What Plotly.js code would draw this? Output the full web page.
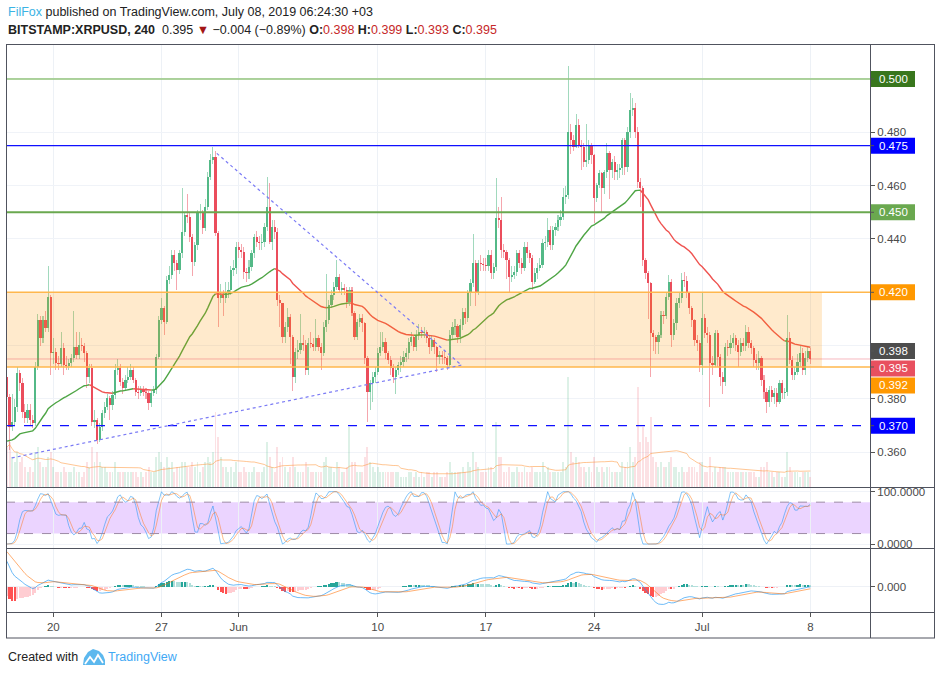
<!DOCTYPE html>
<html><head><meta charset="utf-8">
<script src="https://cdn.plot.ly/plotly-3.0.1.min.js"></script>
<style>html,body{margin:0;padding:0;background:#fff;}#chart{width:939px;height:675px;}</style>
</head><body><div id="chart"></div>
<script>
// ---------------- DATA ----------------
const firstCandle = Date.UTC(2019, 4, 17, 0, 0); // 4h candles, BITSTAMP:XRPUSD
const candleHours = 4;
const firstOpen = 0.3884;
const close = [
.3809,.3696,.3715,.3771,.3896,.3859,.3753,.3728,.3759,.3721,
.3709,.3921,.4096,.4028,.4096,.4065,.4184,.3971,.3978,.3934,
.3930,.3990,.3928,.3925,.3934,.3953,.3996,.3965,.4003,.3999,
.3971,.3884,.3915,.3715,.3721,.3646,.3696,.3746,.3771,.3803,
.3778,.3815,.3909,.3915,.3865,.3840,.3871,.3884,.3909,.3871,
.3828,.3821,.3834,.3828,.3821,.3784,.3821,.3834,.3959,.4096,
.4140,.4090,.4246,.4265,.4340,.4309,.4284,.4346,.4428,.4490,
.4484,.4409,.4315,.4378,.4496,.4503,.4440,.4521,.4634,.4696,
.4709,.4421,.4178,.4190,.4178,.4196,.4209,.4284,.4290,.4371,
.4359,.4353,.4278,.4271,.4296,.4346,.4409,.4390,.4384,.4390,
.4446,.4521,.4390,.4446,.4428,.4171,.4159,.4034,.4071,.4109,
.4034,.3884,.3978,.3984,.4009,.4003,.3909,.4009,.4006,.3996,
.4028,.3996,.3971,.4071,.4096,.4153,.4190,.4221,.4259,.4209,
.4215,.4209,.4165,.4209,.4121,.4034,.4090,.4103,.4084,.3953,
.3828,.3859,.3884,.3903,.3971,.3996,.4015,.3971,.3946,.3915,
.3884,.3909,.3928,.3940,.3959,.3971,.4015,.4034,.3996,.4040,
.4053,.4046,.4053,.4028,.3996,.4021,.3996,.3959,.3965,.3959,
.3953,.3928,.4040,.4071,.4075,.4034,.4078,.4128,.4103,.4196,
.4234,.4309,.4203,.4309,.4306,.4303,.4300,.4340,.4271,.4296,
.4478,.4471,.4359,.4353,.4321,.4259,.4265,.4278,.4346,.4309,
.4290,.4371,.4346,.4328,.4240,.4271,.4290,.4303,.4384,.4390,
.4434,.4378,.4434,.4446,.4471,.4484,.4559,.4565,.4803,.4771,
.4746,.4828,.4753,.4746,.4690,.4696,.4753,.4715,.4553,.4603,
.4646,.4590,.4653,.4721,.4659,.4690,.4653,.4659,.4665,.4771,
.4671,.4803,.4884,.4890,.4803,.4615,.4590,.4321,.4271,.4234,
.4046,.4034,.4015,.4040,.4115,.4112,.4184,.4240,.4040,.4084,
.4159,.4178,.4246,.4243,.4196,.4140,.4096,.4021,.4009,.3928,
.4103,.4046,.4040,.3934,.3928,.4046,.3959,.3884,.3865,.3996,
.3990,.4009,.4028,.4003,.3978,.4009,.3999,.4053,.4009,.3990,
.3946,.3934,.3953,.3871,.3828,.3790,.3834,.3809,.3821,.3790,
.3859,.3821,.3828,.4028,.3946,.3890,.3903,.3940,.3971,.3909,
.3953,.3980,.3950];
const high = [
.390,.382,.382,.380,.392,.391,.388,.378,.378,.378,
.374,.394,.412,.411,.411,.413,.430,.419,.403,.399,
.396,.405,.401,.396,.395,.397,.413,.405,.405,.403,
.401,.398,.393,.393,.376,.373,.371,.376,.379,.382,
.381,.383,.393,.395,.393,.388,.389,.392,.393,.392,
.388,.385,.385,.385,.384,.383,.383,.385,.397,.411,
.418,.415,.426,.430,.436,.436,.432,.436,.459,.450,
.457,.450,.442,.439,.451,.453,.451,.455,.465,.472,
.4746,.473,.443,.423,.421,.424,.424,.430,.432,.439,
.439,.438,.437,.429,.432,.436,.442,.443,.441,.442,
.446,.4634,.461,.447,.447,.444,.419,.416,.409,.414,
.412,.404,.399,.402,.412,.404,.402,.403,.405,.403,
.410,.404,.401,.409,.427,.417,.421,.424,.432,.427,
.424,.423,.422,.422,.422,.413,.410,.412,.412,.409,
.396,.387,.390,.392,.399,.405,.405,.403,.398,.396,
.393,.392,.394,.396,.398,.399,.403,.405,.404,.406,
.408,.407,.407,.406,.404,.404,.403,.400,.398,.398,
.398,.396,.406,.409,.410,.408,.410,.414,.414,.421,
.425,.442,.432,.432,.434,.433,.433,.436,.436,.431,
.4628,.452,.4559,.438,.436,.433,.430,.430,.436,.436,
.433,.439,.439,.436,.434,.429,.431,.433,.440,.441,
.448,.445,.445,.446,.449,.451,.459,.460,.505,.483,
.479,.487,.485,.477,.476,.483,.477,.476,.472,.461,
.466,.465,.466,.476,.473,.470,.471,.468,.468,.478,
.478,.482,.4946,.493,.491,.482,.463,.460,.433,.428,
.424,.406,.404,.405,.413,.413,.420,.4265,.425,.410,
.418,.420,.4271,.4278,.426,.420,.415,.410,.404,.402,
.4196,.412,.407,.405,.396,.406,.406,.397,.390,.401,
.402,.404,.4046,.404,.402,.403,.403,.4078,.407,.402,
.400,.397,.398,.396,.389,.384,.385,.385,.384,.384,
.387,.387,.384,.4115,.405,.396,.392,.397,.400,.399,
.398,.3996,.399];
const low = [
.361,.361,.368,.370,.375,.383,.373,.371,.371,.370,
.369,.370,.391,.400,.401,.405,.405,.389,.393,.391,
.391,.392,.389,.391,.391,.392,.394,.395,.395,.398,
.394,.384,.386,.370,.369,.363,.364,.368,.373,.376,
.372,.376,.380,.389,.385,.382,.383,.386,.387,.386,
.381,.380,.381,.381,.380,.376,.377,.381,.382,.395,
.408,.404,.408,.423,.425,.428,.421,.427,.433,.441,
.446,.439,.426,.430,.436,.447,.442,.443,.451,.462,
.468,.441,.407,.416,.411,.416,.418,.419,.426,.427,
.433,.433,.425,.424,.425,.428,.433,.437,.436,.436,
.437,.443,.438,.436,.440,.415,.407,.401,.401,.405,
.393,.383,.386,.395,.397,.398,.389,.389,.399,.398,
.398,.398,.391,.396,.405,.408,.414,.417,.421,.420,
.419,.419,.414,.415,.411,.402,.402,.407,.405,.393,
.3715,.376,.379,.386,.389,.396,.398,.395,.393,.389,
.386,.382,.389,.390,.392,.394,.395,.400,.398,.398,
.402,.403,.403,.401,.397,.398,.397,.390,.393,.393,
.393,.391,.392,.402,.404,.401,.401,.406,.408,.409,
.415,.422,.415,.419,.428,.428,.428,.428,.425,.425,
.428,.444,.433,.433,.425,.4196,.424,.425,.426,.429,
.427,.428,.433,.431,.421,.423,.425,.428,.429,.436,
.437,.436,.436,.441,.443,.445,.447,.453,.455,.472,
.473,.474,.474,.466,.467,.467,.468,.468,.446,.454,
.459,.450,.457,.463,.455,.463,.462,.462,.463,.464,
.464,.465,.478,.486,.478,.459,.452,.430,.425,.410,
.3884,.398,.397,.397,.403,.408,.410,.417,.3996,.402,
.406,.414,.416,.422,.418,.412,.407,.400,.398,.390,
.389,.403,.401,.377,.389,.392,.392,.385,.382,.385,
.396,.397,.399,.398,.392,.396,.398,.398,.399,.397,
.392,.391,.391,.385,.380,.3746,.377,.379,.378,.377,
.378,.380,.380,.381,.393,.387,.387,.389,.392,.389,
.389,.394,.393];
const volume = [
8,9,6,5,7,5,6,4,3,4, 3,7,8,5,4,4,6,7,4,3, 3,3,4,3,3,3,4,3,3,2, 3,5,4,8,5,7,5,4,4,3,
3,3,5,3,3,3,3,3,3,3, 3,2,3,2,3,4,3,3,6,7, 5,4,6,4,5,3,4,4,5,5, 4,4,5,4,5,3,4,5,6,5,
7,15,10,6,4,4,3,4,3,5, 3,3,4,3,3,3,4,3,3,3, 4,9,6,4,3,8,5,6,4,3, 4,6,4,3,3,3,5,4,3,3,
3,3,3,5,6,4,4,3,5,4, 3,3,4,12,5,5,3,3,3,6, 8,5,4,3,4,3,3,3,3,3, 3,3,3,2,2,2,3,3,2,3,
2,3,2,3,3,2,3,3,2,2, 2,3,5,3,3,3,3,4,3,5, 4,7,5,4,3,3,3,4,4,3, 13,6,6,3,3,4,3,3,4,3,
3,4,3,3,4,3,3,3,5,3, 4,3,3,3,3,3,5,4,22,7, 5,6,5,4,4,3,4,3,6,4, 3,4,3,4,4,3,3,3,3,5,
4,5,8,5,6,20,9,12,10,9, 14,6,5,4,5,4,4,5,6,4, 4,3,4,3,3,4,4,4,3,5, 5,3,3,6,3,4,3,4,4,4,
3,3,3,3,3,3,3,3,3,3, 3,2,2,4,4,5,3,3,2,3, 3,2,2,7,4,3,3,3,2,3, 3,3,2];

// indicator seeds (state before the first visible candle, estimated from the panes)
const emaLen = 50, emaSeed = 0.3635;
const volMaLen = 20;
const macdFast = 12, macdSlow = 26, macdSig = 9;
const fastSeed = 0.425, slowSeed = 0.397, sigSeed = 0.033;
const rsiLen = 14, stochLen = 14, kLen = 3, dLen = 3;
const rsiSeedGain = 0.0015, rsiSeedLoss = 0.0035;
const rsiPrior = [70, 68, 72, 66, 60, 45, 38, 40, 35, 30, 28, 32, 30];

// axis ticks
const tickDates = ['2019-05-20','2019-05-27','2019-06-01','2019-06-10','2019-06-17','2019-06-24','2019-07-01','2019-07-08'];
const tickLabels = ['20','27','Jun','10','17','24','Jul','8'];
const priceTicks = [0.36,0.38,0.40,0.42,0.44,0.46,0.48,0.50];
const priceTickLabels = ['0.360','0.380','','','0.440','0.460','0.480',''];

// drawn levels and trend lines
const levelValues = [0.500, 0.475, 0.450, 0.420, 0.392, 0.370];
const currentPrice = 0.395, prevClose = 0.398;
const zoneLow = 0.392, zoneHigh = 0.420, zoneEnd = '2019-07-08 18:00';
const trendDown = [['2019-05-30 14:00', 0.4721], ['2019-06-15 10:00', 0.3927]];
const trendUp = [['2019-05-17 07:30', 0.3579], ['2019-06-15 10:00', 0.3927]];

// ---------------- GEOMETRY / STYLE ----------------
const L = 6, R = 870, T = 44, B = 612;
const W = R - L, H = B - T;
const px2x = px => (px - L) / W;
const py2y = py => (B - py) / H;
const priceDom = [py2y(487), 1], stochDom = [py2y(548), py2y(487)], macdDom = [0, py2y(548)];
const priceRange = [0.3470, 0.51311];
const priceToPy = p => 487 - (p - priceRange[0]) / (priceRange[1] - priceRange[0]) * (487 - 44);
const xRange = ['2019-05-16 22:31', '2019-07-11 20:40'];
const UP = '#53b987', DN = '#eb4d5c';
const FONT = 'Liberation Sans, Arial, sans-serif';

// ---------------- BUILD ----------------
const STEP = candleHours * 3600 * 1000;
const fmt = ms => new Date(ms).toISOString().slice(0, 16).replace('T', ' ');
const times = close.map((_, i) => fmt(firstCandle + i * STEP));
const open = close.map((c, i) => i === 0 ? firstOpen : close[i - 1]);
const isUp = close.map((c, i) => c >= open[i]);

const bodyBase = close.map((c, i) => Math.min(c, open[i]));
const bodyH = close.map((c, i) => Math.max(Math.abs(c - open[i]), 0.0004));
const wickBase = low.slice();
const wickH = high.map((h, i) => h - low[i]);

// EMA 50 (coloured by slope)
const ema = []; { let e = emaSeed; const k = 2 / (emaLen + 1); close.forEach(c => { e = e + k * (c - e); ema.push(e); }); }
function runs(cond) {
  const xs = [], ys = [];
  for (let i = 1; i < ema.length; i++) {
    if (cond(ema[i] - ema[i - 1])) {
      if (i === 1 || !cond(ema[i - 1] - ema[i - 2])) { xs.push(times[i - 1]); ys.push(ema[i - 1]); }
      xs.push(times[i]); ys.push(ema[i]);
    } else if (i > 1 && cond(ema[i - 1] - ema[i - 2])) { xs.push(null); ys.push(null); }
  }
  return { xs, ys };
}
const maUp = runs(d => d >= 0), maDn = runs(d => d < 0);

// volume SMA
const volMa = volume.map((v, i) => { const s = volume.slice(Math.max(0, i - volMaLen + 1), i + 1); return s.reduce((a, b) => a + b, 0) / s.length; });

// MACD
const macd = [], sig = [], hist = [];
{ let f = fastSeed, s = slowSeed, g = sigSeed; const kf = 2 / (macdFast + 1), ks = 2 / (macdSlow + 1), kg = 2 / (macdSig + 1);
  close.forEach(c => { f += kf * (c - f); s += ks * (c - s); const m = f - s; g += kg * (m - g); macd.push(m); sig.push(g); hist.push(m - g); }); }
const histCol = hist.map((h, i) => { const p = i ? hist[i - 1] : h; return h >= 0 ? (h > p ? '#26a69a' : '#b2dfdb') : (h < p ? '#ff5252' : '#ffcdd2'); });
const mTop = Math.max(...macd, ...sig);
const mScale = mTop / 35;
const macdRange = [-(612 - 586.7) * mScale, (586.7 - 548) * mScale];

// Stoch RSI
const rsi = []; { let ag = rsiSeedGain, al = rsiSeedLoss;
  close.forEach((c, i) => { const ch = c - open[i]; ag = (ag * (rsiLen - 1) + Math.max(ch, 0)) / rsiLen; al = (al * (rsiLen - 1) + Math.max(-ch, 0)) / rsiLen; rsi.push(100 - 100 / (1 + ag / al)); }); }
const rsiAll = rsiPrior.concat(rsi);
const stoch = rsi.map((r, i) => { const j = i + rsiPrior.length; const w = rsiAll.slice(Math.max(0, j - stochLen + 1), j + 1); const mx = Math.max(...w), mn = Math.min(...w); return mx === mn ? 0 : (r - mn) / (mx - mn) * 100; });
const sma = (a, n) => a.map((v, i) => { const s = a.slice(Math.max(0, i - n + 1), i + 1); return s.reduce((x, y) => x + y, 0) / s.length; });
const kLine = sma(stoch, kLen), dLine = sma(kLine, dLen);

const traces = [
  { type: 'bar', x: times, y: volume, yaxis: 'y4', width: 0.75 * STEP, marker: { color: isUp.map(u => u ? 'rgba(83,185,135,0.2)' : 'rgba(235,77,92,0.17)'), line: { width: 0 } }, hoverinfo: 'skip' },
  { type: 'scatter', mode: 'lines', x: times, y: volMa, yaxis: 'y4', line: { color: 'rgba(255,152,60,0.55)', width: 1 }, hoverinfo: 'skip' },
  { type: 'bar', x: times, y: wickH, base: wickBase, width: 0.4 * STEP, marker: { color: isUp.map(u => u ? 'rgba(83,185,135,0.55)' : 'rgba(235,77,92,0.5)'), line: { width: 0 } }, hoverinfo: 'skip' },
  { type: 'bar', x: times, y: bodyH, base: bodyBase, width: 0.85 * STEP, marker: { color: isUp.map(u => u ? UP : DN), line: { width: 0 } }, hoverinfo: 'skip' },
  { type: 'scatter', mode: 'lines', x: maUp.xs, y: maUp.ys, line: { color: '#4ea545', width: 1.4 }, connectgaps: false, hoverinfo: 'skip' },
  { type: 'scatter', mode: 'lines', x: maDn.xs, y: maDn.ys, line: { color: '#ef5350', width: 1.4 }, connectgaps: false, hoverinfo: 'skip' },
  { type: 'scatter', mode: 'lines', x: times, y: kLine, yaxis: 'y2', line: { color: 'rgba(33,150,243,0.55)', width: 1 }, hoverinfo: 'skip' },
  { type: 'scatter', mode: 'lines', x: times, y: dLine, yaxis: 'y2', line: { color: 'rgba(255,109,0,0.45)', width: 1 }, hoverinfo: 'skip' },
  { type: 'bar', x: times, y: hist, yaxis: 'y3', width: 0.85 * STEP, marker: { color: histCol, line: { width: 0 } }, hoverinfo: 'skip' },
  { type: 'scatter', mode: 'lines', x: times, y: macd, yaxis: 'y3', line: { color: 'rgba(33,150,243,0.65)', width: 1 }, hoverinfo: 'skip' },
  { type: 'scatter', mode: 'lines', x: times, y: sig, yaxis: 'y3', line: { color: 'rgba(255,109,0,0.55)', width: 1 }, hoverinfo: 'skip' }
];

const levelStyle = {
  0.500: { color: '#93c47d', width: 1.5, dash: 'solid', box: '#38761d' },
  0.475: { color: '#1010ff', width: 1.4, dash: 'solid', box: '#0000ff' },
  0.450: { color: '#6aa84f', width: 2, dash: 'solid', box: '#6aa84f' },
  0.420: { color: '#ffb74d', width: 1.5, dash: 'solid', box: '#ff9800' },
  0.392: { color: '#ffb74d', width: 1.5, dash: 'solid', box: '#ff9800' },
  0.370: { color: '#1010ff', width: 1.4, dash: 'dash', box: '#0000ff' }
};
const shapes = [];
const ann = [];
// zone box
shapes.push({ type: 'rect', xref: 'x', yref: 'y', x0: xRange[0], x1: zoneEnd, y0: zoneLow, y1: zoneHigh, fillcolor: 'rgba(255,152,0,0.2)', line: { width: 0 }, layer: 'above' });
// current price line
shapes.push({ type: 'line', xref: 'paper', yref: 'y', x0: 0, x1: 1, y0: currentPrice, y1: currentPrice, line: { color: 'rgba(235,77,92,0.4)', width: 1 }, layer: 'above' });
levelValues.forEach(v => { const s = levelStyle[v]; shapes.push({ type: 'line', xref: 'paper', yref: 'y', x0: 0, x1: 1, y0: v, y1: v, line: { color: s.color, width: s.width, dash: s.dash }, layer: 'above' }); });
// trend lines
[trendDown, trendUp].forEach(t => shapes.push({ type: 'line', xref: 'x', yref: 'y', x0: t[0][0], y0: t[0][1], x1: t[1][0], y1: t[1][1], line: { color: '#7b7bf5', width: 1.2, dash: 'dot' }, layer: 'above' }));
// stoch band
shapes.push({ type: 'rect', xref: 'paper', yref: 'y2', x0: 0, x1: 1, y0: 20, y1: 80, fillcolor: 'rgba(156,39,255,0.2)', line: { width: 0 }, layer: 'below' });
[20, 80].forEach(v => shapes.push({ type: 'line', xref: 'paper', yref: 'y2', x0: 0, x1: 1, y0: v, y1: v, line: { color: '#9d8ba6', width: 1, dash: 'dash' }, layer: 'above' }));
// frames
const frame = '#50535e';
const hline = (py, x0, x1) => shapes.push({ type: 'line', xref: 'paper', yref: 'paper', x0: px2x(x0), x1: px2x(x1), y0: py2y(py), y1: py2y(py), line: { color: frame, width: 1 } });
const vline = (px, y0, y1) => shapes.push({ type: 'line', xref: 'paper', yref: 'paper', x0: px2x(px), x1: px2x(px), y0: py2y(y0), y1: py2y(y1), line: { color: frame, width: 1 } });
hline(44.5, 6, 935); hline(487.5, 6, 935); hline(548.5, 6, 935); hline(612.5, 6, 935); hline(638, 6, 935);
vline(6.5, 44, 638); vline(870.5, 44, 638); vline(934.5, 44, 638);

// price labels on the scale
const labelBoxes = [
  { v: 0.500, off: 0, c: levelStyle[0.5].box },
  { v: 0.475, off: 0, c: levelStyle[0.475].box },
  { v: 0.450, off: 0, c: levelStyle[0.45].box },
  { v: 0.420, off: 0, c: levelStyle[0.42].box },
  { v: prevClose, off: 0, c: '#4d4d4d' },
  { v: currentPrice, off: 9.5, c: '#e8505f' },
  { v: 0.392, off: 18.5, c: levelStyle[0.392].box },
  { v: 0.370, off: 0, c: levelStyle[0.37].box }
];
labelBoxes.forEach(b => {
  const cy = priceToPy(b.v) + b.off;
  shapes.push({ type: 'rect', xref: 'paper', yref: 'paper', x0: px2x(871), x1: px2x(915), y0: py2y(cy + 8), y1: py2y(cy - 8), fillcolor: b.c, line: { width: 0 } });
  shapes.push({ type: 'line', xref: 'paper', yref: 'paper', x0: px2x(870), x1: px2x(874), y0: py2y(priceToPy(b.v)), y1: py2y(priceToPy(b.v)), line: { color: '#555', width: 1 } });
  ann.push({ xref: 'paper', yref: 'paper', x: px2x(877), y: py2y(cy), xanchor: 'left', yanchor: 'middle', showarrow: false, text: b.v.toFixed(3), font: { family: FONT, size: 11.5, color: '#ffffff' } });
});

// header
ann.push({ xref: 'paper', yref: 'paper', x: px2x(6), y: py2y(12), xanchor: 'left', yanchor: 'middle', showarrow: false,
  text: '<span style="color:#3bb3e4">FilFox</span> published on TradingView.com, July 08, 2019 06:24:30 +03', font: { family: FONT, size: 12.5, color: '#222' } });
const rc = s => '<span style="color:#c62828">' + s + '</span>';
ann.push({ xref: 'paper', yref: 'paper', x: px2x(6), y: py2y(29.5), xanchor: 'left', yanchor: 'middle', showarrow: false,
  text: '<b>BITSTAMP:XRPUSD, 240</b>  0.395 <span style="color:#a31515">▼</span> −0.004 (−0.89%) <b>O:</b>' + rc('0.398') + ' <b>H:</b>' + rc('0.399') + ' <b>L:</b>' + rc('0.393') + ' <b>C:</b>' + rc('0.395'),
  font: { family: FONT, size: 12.5, color: '#222' } });
// footer
ann.push({ xref: 'paper', yref: 'paper', x: px2x(6), y: py2y(657), xanchor: 'left', yanchor: 'middle', showarrow: false, text: 'Created with', font: { family: FONT, size: 12.5, color: '#222' } });
ann.push({ xref: 'paper', yref: 'paper', x: px2x(106), y: py2y(657), xanchor: 'left', yanchor: 'middle', showarrow: false, text: 'TradingView', font: { family: FONT, size: 12.5, color: '#3fa9f5' } });
const P = (x, y) => px2x(x).toFixed(5) + ',' + py2y(y).toFixed(5);
shapes.push({ type: 'path', xref: 'paper', yref: 'paper', path: 'M' + P(83, 665) + ' L' + P(84, 658) + ' L' + P(88, 652) + ' L' + P(93, 649) + ' L' + P(99, 651) + ' L' + P(103, 655) + ' L' + P(105, 660) + ' L' + P(105, 665) + ' Z', fillcolor: '#5cb8ee', line: { width: 0 } });
shapes.push({ type: 'path', xref: 'paper', yref: 'paper', path: 'M' + P(85, 664) + ' L' + P(90, 657) + ' L' + P(94, 662) + ' L' + P(98, 655) + ' L' + P(103, 663), line: { color: '#ffffff', width: 1.8 } });

const axFont = { family: FONT, size: 11.5, color: '#4a4a4a' };
const layout = {
  width: 939, height: 675, margin: { l: L, r: 939 - R, t: T, b: 675 - B },
  paper_bgcolor: '#ffffff', plot_bgcolor: '#ffffff', showlegend: false, barmode: 'overlay', bargap: 0, hovermode: false,
  xaxis: { type: 'date', range: xRange, anchor: 'y3', tickvals: tickDates, ticktext: tickLabels, ticks: 'outside', ticklen: 4, tickcolor: '#555',
    showgrid: true, gridcolor: '#edf1f6', zeroline: false, showline: false, tickfont: axFont, fixedrange: true },
  yaxis: { domain: priceDom, range: priceRange, side: 'right', anchor: 'x', tickvals: priceTicks, ticktext: priceTickLabels, ticks: 'outside', ticklen: 4, tickcolor: '#555',
    gridcolor: '#f0f3f8', zeroline: false, showline: false, tickfont: axFont },
  yaxis2: { domain: stochDom, range: [-7.6, 109], side: 'right', anchor: 'x', tickvals: [0, 100], ticktext: ['0.0000', '100.0000'], ticks: 'outside', ticklen: 4, tickcolor: '#555',
    gridcolor: '#f0f3f8', zeroline: false, showline: false, tickfont: axFont },
  yaxis3: { domain: macdDom, range: macdRange, side: 'right', anchor: 'x', tickvals: [0], ticktext: ['0.000'], ticks: 'outside', ticklen: 4, tickcolor: '#555',
    gridcolor: '#eef1f6', zeroline: false, showline: false, tickfont: axFont },
  yaxis4: { overlaying: 'y', anchor: 'x', range: [0, 88.6], visible: false, showgrid: false },
  shapes: shapes, annotations: ann
};
Plotly.newPlot('chart', traces, layout, { displayModeBar: false, staticPlot: true });
</script></body></html>
